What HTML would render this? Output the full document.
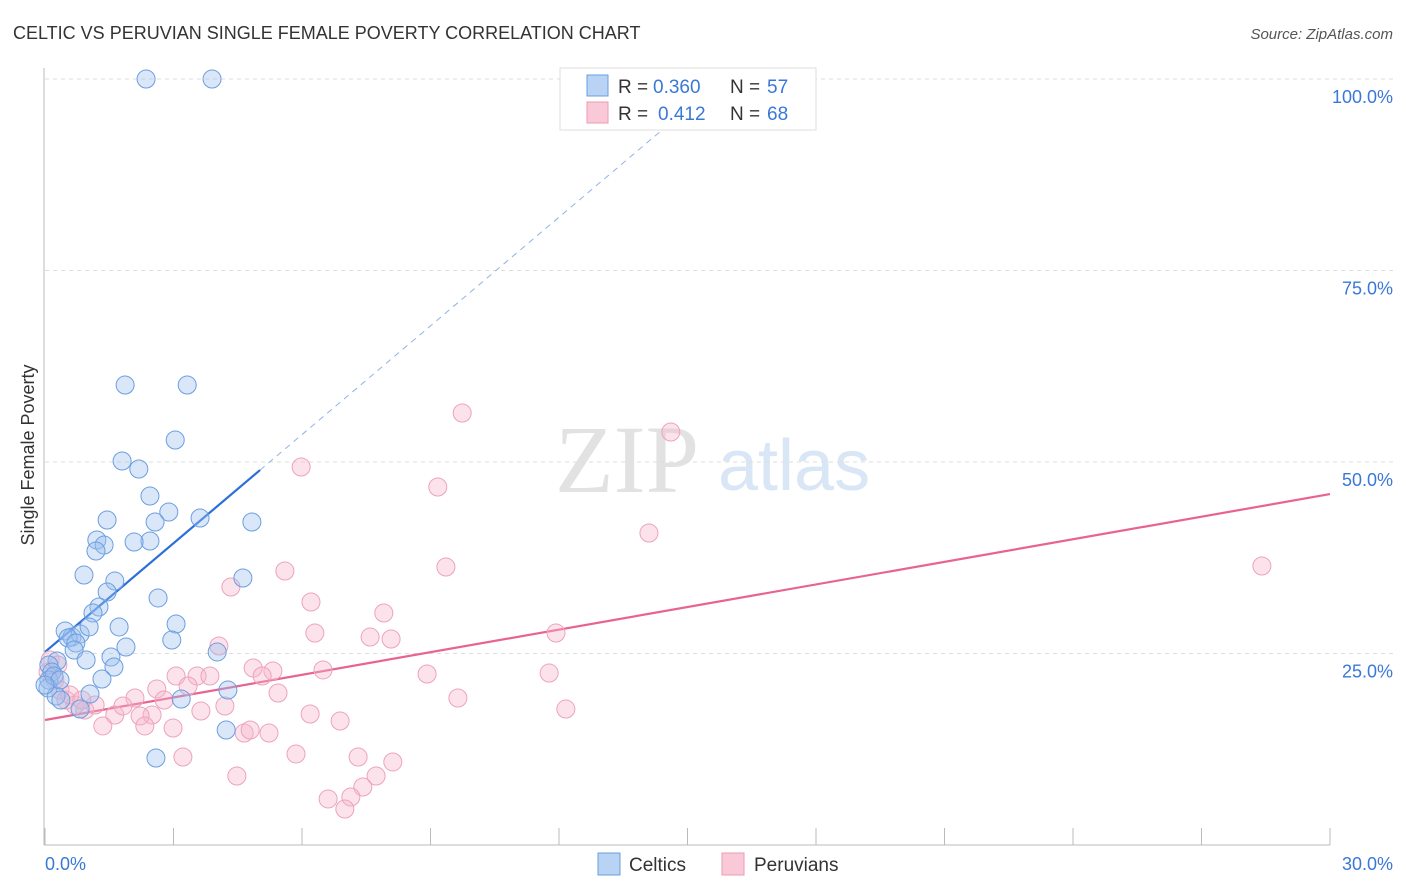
<!DOCTYPE html>
<html><head><meta charset="utf-8"><style>
body{margin:0;background:#fff;font-family:"Liberation Sans",sans-serif}
svg{display:block}
</style></head><body>
<svg id="chart" width="1406" height="892" xmlns="http://www.w3.org/2000/svg">
<text x="13" y="39" font-size="18" fill="#333">CELTIC VS PERUVIAN SINGLE FEMALE POVERTY CORRELATION CHART</text>
<text x="1393" y="39" font-size="15" fill="#555" text-anchor="end" font-style="italic">Source: ZipAtlas.com</text>
<g>
<text x="555" y="492" font-size="96" fill="#e2e2e2" font-family="Liberation Serif,serif">ZIP</text>
<text x="718" y="490" font-size="72" fill="#d9e6f5">atlas</text>
</g>
<g id="grid"></g>
<g id="axes"></g>
<text transform="translate(34,455) rotate(-90)" font-size="18" fill="#333" text-anchor="middle">Single Female Poverty</text>
<g id="lines"></g>
<g id="pts"></g>
<g>
<rect x="560" y="68" width="256" height="62" fill="#fff" stroke="#ddd"/>
<rect x="587" y="75" width="21" height="21" fill="#b9d3f5" stroke="#6c9ee0"/>
<rect x="587" y="102" width="21" height="21" fill="#f9c9d8" stroke="#eb9ab6"/>
<text y="93" font-size="19" fill="#333"><tspan x="618">R =</tspan><tspan x="653" fill="#3a78d8">0.360</tspan><tspan x="730">N =</tspan><tspan x="767" fill="#3a78d8">57</tspan></text>
<text y="120" font-size="19" fill="#333"><tspan x="618">R =</tspan><tspan x="658" fill="#3a78d8">0.412</tspan><tspan x="730">N =</tspan><tspan x="767" fill="#3a78d8">68</tspan></text>
</g>
<g>
<rect x="598" y="853" width="22" height="22" fill="#b9d3f5" stroke="#6c9ee0"/>
<text x="629" y="871" font-size="19" fill="#333">Celtics</text>
<rect x="722" y="853" width="22" height="22" fill="#f9c9d8" stroke="#eb9ab6"/>
<text x="754" y="871" font-size="19" fill="#333">Peruvians</text>
</g>
</svg>
<script>
const yTicks=[100,75,50,25];
const yTickLabels=["100.0%","75.0%","50.0%","25.0%"];
const xTickLabels=["0.0%","30.0%"];
const celticX=[2.36,3.90,1.87,3.32,3.04,1.80,2.19,2.45,2.89,2.57,3.62,4.83,1.45,1.21,2.45,2.08,1.38,1.19,0.91,1.63,4.62,1.45,2.64,1.26,1.12,3.06,1.73,0.47,0.63,0.82,0.54,1.03,0.72,0.68,2.96,1.89,4.02,0.96,1.54,1.61,0.28,0.09,0.16,0.09,1.33,0.07,0.26,1.05,4.27,3.18,0.37,0.82,4.23,2.59,0.21,0.35,0.0];
const celticY=[100,100,60.05,60.05,52.87,50.13,49.09,45.56,43.47,42.17,42.69,42.17,42.43,39.82,39.69,39.56,39.16,38.38,35.25,34.46,34.86,33.03,32.25,31.07,30.29,28.85,28.46,27.94,27.15,27.55,27.02,28.46,26.37,25.46,26.76,25.85,25.20,24.15,24.54,23.24,24.02,23.50,22.58,21.54,21.67,20.50,19.45,19.71,20.23,19.06,18.93,17.75,15.01,11.36,22.06,21.54,20.89];
const peruX=[9.74,14.61,5.98,9.17,14.10,28.41,9.36,5.60,4.34,6.21,7.91,6.30,11.93,7.59,8.08,4.06,4.86,5.32,6.49,3.06,3.55,3.85,5.07,8.92,11.77,5.44,2.61,3.34,9.64,2.10,2.78,4.20,3.64,12.16,6.19,6.89,2.50,1.63,1.82,2.22,1.35,2.99,2.33,4.65,4.79,5.23,3.22,5.86,7.31,4.48,8.12,7.73,7.42,7.14,6.61,7.00,0.07,0.23,0.35,0.49,0.70,0.93,1.17,0.12,0.30,0.58,0.86];
const peruY=[56.40,53.92,49.35,46.74,40.73,36.42,36.29,35.77,33.68,31.72,30.29,27.68,27.68,27.15,26.89,25.98,23.11,22.72,22.85,22.06,22.06,22.06,22.06,22.32,22.45,19.84,20.37,20.76,19.19,19.19,18.93,18.15,17.49,17.75,17.10,16.19,16.97,16.97,18.15,16.84,15.54,15.27,15.54,14.62,15.01,14.62,11.49,11.88,11.49,9.01,10.84,9.01,7.57,6.27,6.01,4.70,22.58,21.54,20.23,18.93,18.28,17.62,18.28,24.15,23.50,19.58,18.93];
const celticFit=[25.2,4.73];
const peruFit=[16.32,0.983];
const NS="http://www.w3.org/2000/svg";
const X=v=>45+v*(1285/30), Y=v=>845-v*7.66;
function mk(tag,attrs,parent){const e=document.createElementNS(NS,tag);for(const k in attrs)e.setAttribute(k,attrs[k]);parent.appendChild(e);return e;}
const grid=document.getElementById('grid'),axes=document.getElementById('axes'),lines=document.getElementById('lines'),pts=document.getElementById('pts');
yTicks.forEach((t,i)=>{
 const l=mk('line',{x1:45,x2:1393,y1:Y(t),y2:Y(t),stroke:'#ddd','stroke-dasharray':'4,4'},grid);
 
 
 const tx=mk('text',{x:1393,y:Y(t)+24,'font-size':18,fill:'#3a78d8','text-anchor':'end'},axes);
 tx.textContent=yTickLabels[i];
 
 
});
const al=mk('line',{x1:44,x2:44,y1:68,y2:845,stroke:'#bbb'},axes);


const bl=mk('line',{x1:44,x2:1330,y1:845,y2:845,stroke:'#bbb'},axes);


for(let i=0;i<=10;i++){const tk=mk('line',{x1:X(i*3),x2:X(i*3),y1:828,y2:845,stroke:'#bbb'},axes);
 
 }
const xl0=mk('text',{x:45,y:870,'font-size':18,fill:'#3a78d8'},axes);xl0.textContent=xTickLabels[0];


const xl1=mk('text',{x:1393,y:870,'font-size':18,fill:'#3a78d8','text-anchor':'end'},axes);xl1.textContent=xTickLabels[1];


function dots(xs,ys,fill,stroke,name){xs.forEach((x,i)=>{const c=mk('circle',{cx:X(x),cy:Y(ys[i]),r:9,fill:fill,stroke:stroke,'stroke-width':1},pts);
 
 });}
dots(peruX,peruY,'rgba(246,182,203,0.38)','#eda3bd','peruvian-point');
dots(celticX,celticY,'rgba(155,192,240,0.38)','#6c9ee0','celtic-point');
const xEnd=(100-celticFit[0])/celticFit[1];
const cd=mk('line',{x1:X(5.02),y1:Y(celticFit[0]+celticFit[1]*5.02),x2:X(xEnd),y2:Y(100),stroke:'#8fb3e6','stroke-dasharray':'6,5','stroke-width':1},lines);


const cl=mk('line',{x1:X(0),y1:Y(celticFit[0]),x2:X(5.02),y2:Y(celticFit[0]+celticFit[1]*5.02),stroke:'#2c6fd8','stroke-width':2.2},lines);


const pl=mk('line',{x1:X(0),y1:Y(peruFit[0]),x2:X(30),y2:Y(peruFit[0]+peruFit[1]*30),stroke:'#e8648f','stroke-width':2.2},lines);


</script>
</body></html>
